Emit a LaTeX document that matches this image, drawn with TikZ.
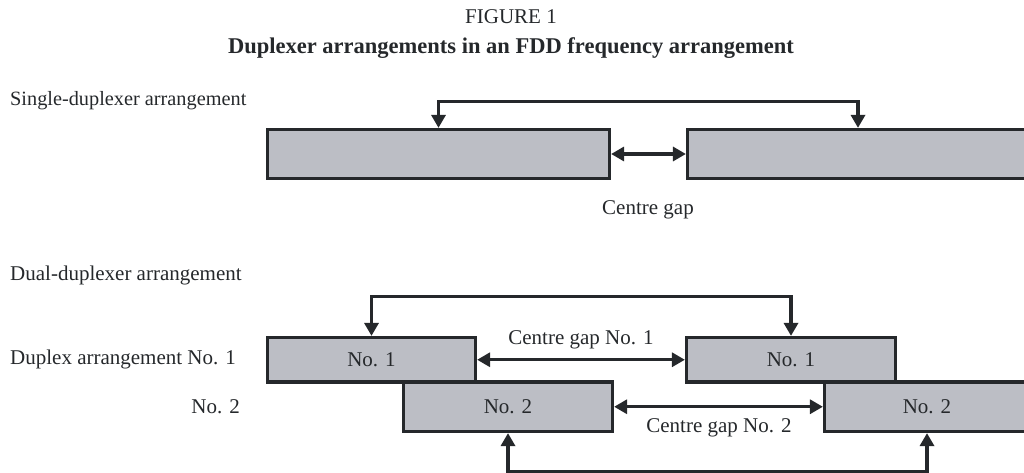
\documentclass[tikz,border=0pt]{standalone}
\usepackage{fontspec}
\setmainfont{Liberation Serif}
\usetikzlibrary{arrows.meta}
\definecolor{boxfill}{RGB}{188,190,197}
\definecolor{ink}{RGB}{37,40,43}
\begin{document}
\begin{tikzpicture}[x=1pt,y=-1pt,
  every node/.style={font=\fontsize{21}{24}\selectfont, text=ink, inner sep=0pt},
  band/.style={draw=ink, fill=boxfill, line width=3.2pt, rectangle},
  link/.style={draw=ink, line width=3.2pt},
  tip/.tip={Triangle[length=13pt,width=14pt]}]
\useasboundingbox (0,0) rectangle (1024,473);
\clip (0,0) rectangle (1024,473);

% titles
\node (fig) at (511,17) {FIGURE 1};
\node[font=\fontsize{22.5}{26}\selectfont\bfseries] (title) at (511,48) {Duplexer arrangements in an FDD frequency arrangement};

% single duplexer
\node[anchor=west, font=\fontsize{20.3}{24}\selectfont] (lsingle) at (10,101) {Single-duplexer arrangement};
\node[band, minimum width=342pt, minimum height=49pt] (s1) at (438.5,154) {};
\node[band, minimum width=341pt, minimum height=49pt] (s2) at (858,154) {};
\draw[link, tip-tip] (s1.north) -- ++(0,-26.5) -| (s2.north);
\draw[link, tip-tip] (s1.east) -- (s2.west);
\node (cg) at (648,210) {Centre gap};

% dual duplexer
\node[anchor=west] (ldual) at (10,275) {Dual-duplexer arrangement};
\node[anchor=west] (lno1) at (10,359) {Duplex arrangement No. 1};
\node[anchor=east] (lno2) at (240,407) {No. 2};

\node[band, minimum width=209pt, minimum height=49.5pt] (b1) at (508,406.75) {No. 2};
\node[band, minimum width=205pt, minimum height=49.5pt] (b2) at (927,406.75) {No. 2};
\node[band, minimum width=208pt, minimum height=44.5pt] (a1) at (371.5,359.75) {No. 1};
\node[band, minimum width=209pt, minimum height=44.5pt] (a2) at (791,359.75) {No. 1};

\draw[link, tip-tip] (a1.north) -- ++(0,-39.5) -| (a2.north);
\draw[link, tip-tip] (a1.east) -- (a2.west);
\node (cg1) at (581,340) {Centre gap No. 1};
\draw[link, tip-tip] (b1.east) -- (b2.west);
\node (cg2) at (719,428) {Centre gap No. 2};
\draw[link, line width=4pt, tip-tip] (b1.south) -- ++(0,38.5) -| (b2.south);
\end{tikzpicture}
\end{document}
